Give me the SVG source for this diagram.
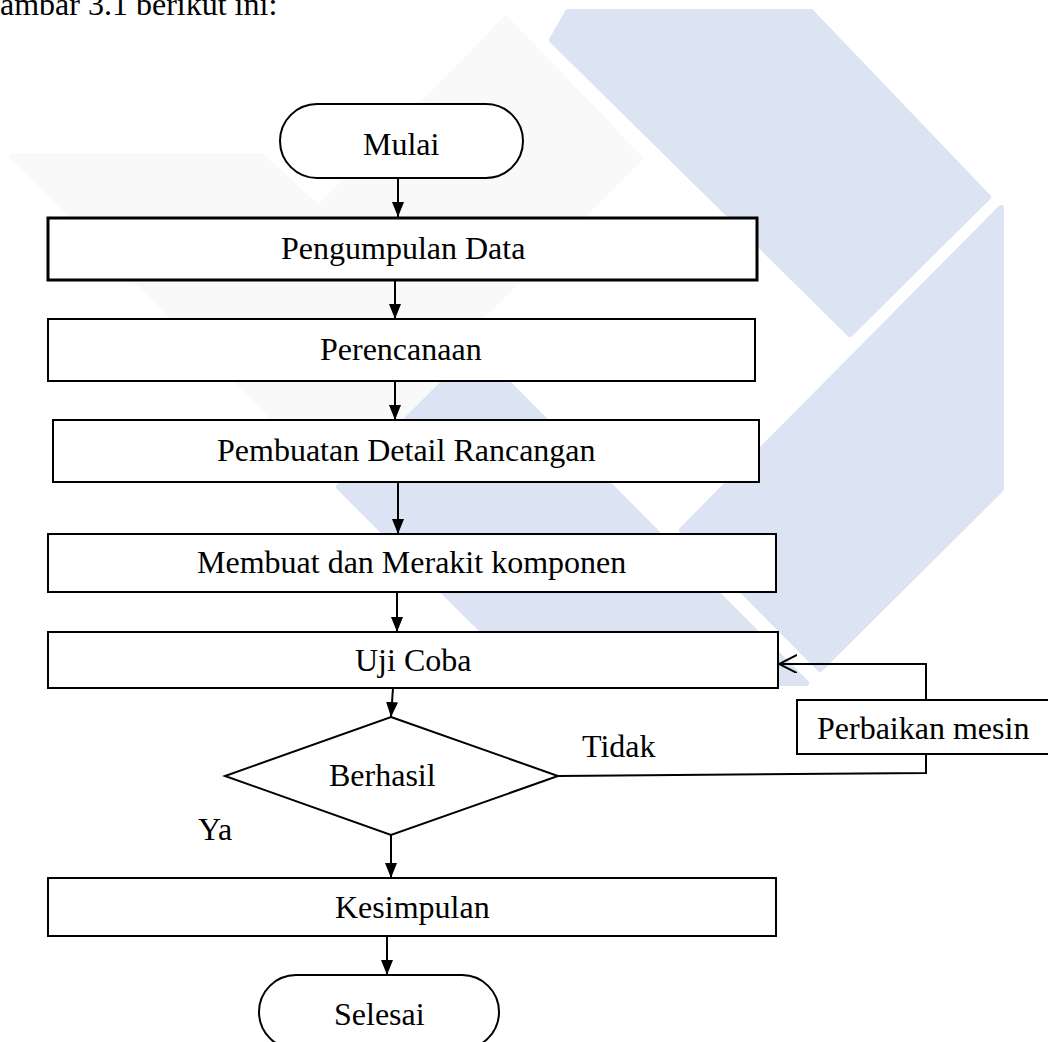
<svg xmlns="http://www.w3.org/2000/svg" width="1048" height="1042" viewBox="0 0 1048 1042">
<style>
  text { font-family: "Liberation Serif", "Times New Roman", serif; font-size: 32px; fill: #000; }
  .box { fill: #fff; stroke: #000; stroke-width: 2; }
  .thick { stroke-width: 3; }
  .conn { fill: none; stroke: #000; stroke-width: 2; }
  .wmb { fill: #dce3f2; stroke: #dce3f2; stroke-width: 6; stroke-linejoin: round; }
  .wmg { fill: #f9f9f9; stroke: #f9f9f9; stroke-width: 6; stroke-linejoin: round; }
</style>
<defs>
  <marker id="arr" markerUnits="userSpaceOnUse" markerWidth="15" markerHeight="12" refX="15" refY="6" orient="auto">
    <path d="M0,0 L15,6 L0,12 Z" fill="#000"/>
  </marker>
  <marker id="open" markerUnits="userSpaceOnUse" markerWidth="20" markerHeight="20" refX="18" refY="9" orient="auto">
    <path d="M0,0 L18,9 L0,18" fill="none" stroke="#000" stroke-width="2"/>
  </marker>
</defs>
<rect width="1048" height="1042" fill="#fff"/>
<g id="watermark">
  <path class="wmg" d="M12,156 L262,156 L470,351 L338,482 Z"/>
  <path class="wmg" d="M506,19 L640,158 L458,340 L322,204 Z"/>
  <path class="wmb" d="M552,40 L568,12 L811,12 L988,197 L850,334 Z"/>
  <path class="wmb" d="M1001,208 L1001,489 L820,669 L682,530 Z"/>
  <path class="wmb" d="M339,487 L476,351 L806,683 L535,683 Z"/>
</g>
<text x="0" y="15">ambar 3.1 berikut ini:</text>
<g id="connectors">
  <line class="conn" x1="398" y1="178" x2="398" y2="217" marker-end="url(#arr)"/>
  <line class="conn" x1="395" y1="281" x2="395" y2="319" marker-end="url(#arr)"/>
  <line class="conn" x1="395" y1="381" x2="395" y2="420" marker-end="url(#arr)"/>
  <line class="conn" x1="398" y1="482" x2="398" y2="534" marker-end="url(#arr)"/>
  <line class="conn" x1="397" y1="592" x2="397" y2="632" marker-end="url(#arr)"/>
  <line class="conn" x1="393" y1="688" x2="391" y2="717" marker-end="url(#arr)"/>
  <line class="conn" x1="391" y1="835" x2="391" y2="878" marker-end="url(#arr)"/>
  <line class="conn" x1="387" y1="936" x2="387" y2="975" marker-end="url(#arr)"/>
  <polyline class="conn" points="558,776 926,773 926,754"/>
  <polyline class="conn" points="926,700 926,664 779,664" marker-end="url(#open)"/>
</g>
<g id="mulai">
  <rect class="box" x="280" y="104" width="243" height="74" rx="37" ry="37"/>
  <text x="363" y="155">Mulai</text>
</g>
<g id="pengumpulan">
  <rect class="box thick" x="48" y="218" width="709" height="62"/>
  <text x="281" y="259">Pengumpulan Data</text>
</g>
<g id="perencanaan">
  <rect class="box" x="48" y="319" width="707" height="62"/>
  <text x="320" y="360">Perencanaan</text>
</g>
<g id="pembuatan">
  <rect class="box" x="53" y="420" width="706" height="62"/>
  <text x="217" y="461">Pembuatan Detail Rancangan</text>
</g>
<g id="membuat">
  <rect class="box" x="48" y="534" width="728" height="58"/>
  <text x="197" y="573">Membuat dan Merakit komponen</text>
</g>
<g id="ujicoba">
  <rect class="box" x="48" y="632" width="730" height="56"/>
  <text x="355" y="671">Uji Coba</text>
</g>
<g id="berhasil">
  <polygon class="box" points="391,717 558,776 391,835 225,776"/>
  <text x="329" y="786">Berhasil</text>
</g>
<g id="label-tidak">
  <text x="582" y="757">Tidak</text>
</g>
<g id="label-ya">
  <text x="198" y="840">Ya</text>
</g>
<g id="perbaikan">
  <rect class="box" x="797" y="700" width="252" height="54"/>
  <text x="817" y="739">Perbaikan mesin</text>
</g>
<g id="kesimpulan">
  <rect class="box" x="48" y="878" width="728" height="58"/>
  <text x="335" y="918">Kesimpulan</text>
</g>
<g id="selesai">
  <rect class="box" x="259" y="975" width="240" height="74" rx="37" ry="37"/>
  <text x="334" y="1025">Selesai</text>
</g>
</svg>
